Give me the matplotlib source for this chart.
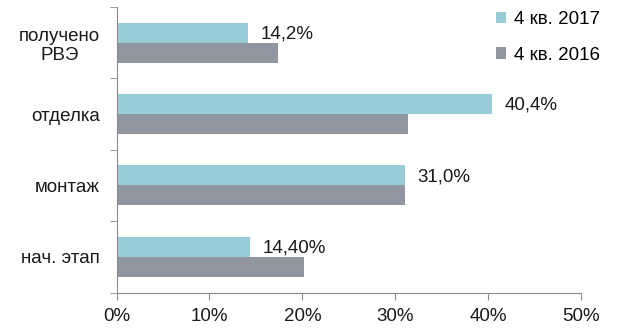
import matplotlib
matplotlib.use("Agg")
import matplotlib.pyplot as plt
import numpy as np

plt.rcParams['font.family'] = ['Liberation Sans', 'DejaVu Sans']

# stages, bottom to top
categories = ["нач. этап", "монтаж", "отделка", "получено\nРВЭ"]
q4_2017 = [14.4, 31.0, 40.4, 14.2]
q4_2016 = [20.2, 31.0, 31.4, 17.4]
labels_2017 = ["14,40%", "31,0%", "40,4%", "14,2%"]
series_names = ["4 кв. 2017", "4 кв. 2016"]

c_2017 = "#98CDD7"
c_2016 = "#9096A0"
axis_color = "#8C8C8C"
fs = 13.5

fig = plt.figure(figsize=(6.23, 3.31), dpi=100)
ax = fig.add_axes([0.187, 0.116, 0.746, 0.863])

y = np.arange(len(categories))
h = 0.28
b1 = ax.barh(y + h / 2, q4_2017, height=h, color=c_2017, label=series_names[0])
b2 = ax.barh(y - h / 2, q4_2016, height=h, color=c_2016, label=series_names[1])

for yi, v, txt in zip(y, q4_2017, labels_2017):
    ax.annotate(txt, (v, yi + h / 2), xytext=(9, -1), textcoords="offset points",
                ha="left", va="center", fontsize=fs, color="#1a1a1a")

ax.set_xlim(0, 50)
ax.set_ylim(-0.5, len(categories) - 0.5)
ax.set_xticks(np.arange(0, 51, 10))
ax.set_xticklabels([f"{t}%" for t in range(0, 51, 10)], fontsize=fs, color="#1a1a1a")
ax.set_yticks(y)
ax.set_yticklabels(categories, fontsize=fs, color="#1a1a1a", multialignment="center")
ax.set_yticks(np.arange(-0.5, len(categories), 1.0), minor=True)
ax.tick_params(axis="y", which="major", length=0, pad=12)
ax.tick_params(axis="y", which="minor", length=5, color=axis_color, direction="out")
ax.tick_params(axis="x", length=5, color=axis_color, direction="out", pad=6)

for s in ["top", "right"]:
    ax.spines[s].set_visible(False)
for s in ["left", "bottom"]:
    ax.spines[s].set_color(axis_color)

leg = fig.legend(handles=[b1, b2], loc="upper right", bbox_to_anchor=(0.975, 0.99),
                 frameon=False, fontsize=fs, handlelength=0.55, handleheight=0.55,
                 handletextpad=0.4, labelspacing=1.0, borderaxespad=0)

fig.savefig("out.png", dpi=100)
